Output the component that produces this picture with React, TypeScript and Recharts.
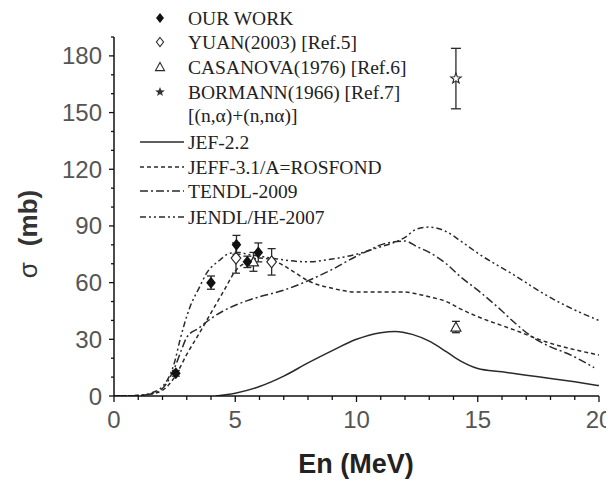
import React from "react";
import { ComposedChart, Line, Scatter, XAxis, YAxis, ErrorBar } from "recharts";

// evaluated curves (En in MeV, sigma in mb)
const jefE = [4.2, 5, 6, 7, 8, 9, 10, 11, 11.6, 12.3, 13, 13.7, 14.3, 15, 16, 17, 18, 19, 20];
const jefS = [0, 1.5, 5, 10.5, 17.5, 24, 30, 33.5, 34.2, 32.6, 29, 23.5, 18.5, 14.6, 12.8, 11, 9.3, 7.5, 5.5];

const jeffE = [0, 1, 1.5, 2, 2.5, 3, 3.6, 4, 4.5, 5.06, 5.5, 6, 6.5, 7, 7.5, 8, 9, 10, 11, 12, 12.5, 13, 13.7, 14.3, 15, 16.5, 17.8, 19, 20];
const jeffS = [0, 0.3, 1, 3, 10, 22, 35, 44, 55, 67, 71, 73, 72, 69, 65, 61, 57, 55, 55, 55, 54, 52.5, 50, 46, 42, 35, 28.7, 24.5, 21.7];

const tendlE = [0, 1, 1.5, 2, 2.5, 2.8, 3, 3.5, 4, 4.5, 5, 5.5, 6, 7, 8, 9, 10, 10.5, 11, 11.5, 12, 12.5, 13, 13.7, 14.3, 15, 16, 16.5, 17.4, 18, 18.7, 19.8];
const tendlS = [0, 0.3, 1, 4, 15, 25, 31, 36, 41, 45, 48, 50.5, 52.5, 56, 61, 67, 74, 77, 80, 81.5, 82, 79, 76, 70, 63, 56, 45, 39, 30, 26, 22.5, 15];

const jendlE = [0, 1, 1.5, 2, 2.5, 2.72, 3.13, 3.5, 3.82, 4.37, 4.78, 5.2, 5.5, 6, 6.5, 7, 8, 9, 10, 11, 11.5, 12, 12.5, 13, 13.7, 14.3, 15, 16.5, 17.8, 19, 20];
const jendlS = [0, 0.3, 1.5, 5, 18, 29.6, 47, 57, 65, 72, 75.6, 76, 75, 74, 73, 72, 71, 72.5, 75, 79, 81, 84, 88.5, 89.4, 87, 82, 75.6, 64, 53.5, 45.5, 40];

// measurements
const ourE = [2.55, 4.0, 5.05, 5.5, 5.95];
const ourS = [12, 60, 80, 71, 76];
const ourErr = [1.5, 3.5, 5, 3, 5];

const yuanE = [5.03, 6.5];
const yuanS = [73, 71];
const yuanErr = [8, 7];

const casE = [5.75, 14.1];
const casS = [71, 36.5];
const casErr = [5, 3];

const borE = [14.1];
const borS = [168];
const borErr = [16];

const legendLabels = [
  "OUR WORK",
  "YUAN(2003) [Ref.5]",
  "CASANOVA(1976) [Ref.6]",
  "BORMANN(1966) [Ref.7]",
  "[(n,α)+(n,nα)]",
  "JEF-2.2",
  "JEFF-3.1/A=ROSFOND",
  "TENDL-2009",
  "JENDL/HE-2007",
];

const xTicks = Array.from({ length: 21 }, (_, i) => i);
const yTicks = Array.from({ length: 20 }, (_, i) => i * 10);

const toRows = (e: number[], s: number[], err?: number[]) =>
  e.map((v, i) => ({ e: v, s: s[i], err: err ? err[i] : 0 }));

const W = 606;
const H = 476;
const INK = "#2a2a2a";

const dashJeff = "4 3";
const dashTendl = "8 3 2 3";
const dashJendl = "6 3 2 3 2 3";

const diamond = (cx: number, cy: number, r: number) =>
  `${cx},${cy - r} ${cx + r * 0.8},${cy} ${cx},${cy + r} ${cx - r * 0.8},${cy}`;

const triangle = (cx: number, cy: number, r: number) =>
  `${cx},${cy - r} ${cx + r},${cy + r * 0.8} ${cx - r},${cy + r * 0.8}`;

const star = (cx: number, cy: number, r: number) => {
  const pts: string[] = [];
  for (let i = 0; i < 10; i++) {
    const rr = i % 2 === 0 ? r : r * 0.42;
    const a = -Math.PI / 2 + (i * Math.PI) / 5;
    pts.push(`${cx + rr * Math.cos(a)},${cy + rr * Math.sin(a)}`);
  }
  return pts.join(" ");
};

const FilledDiamond = (p: any) => <polygon points={diamond(p.cx, p.cy, 6)} fill="#111" />;
const OpenDiamond = (p: any) => (
  <polygon points={diamond(p.cx, p.cy, 6)} fill="#fff" stroke={INK} strokeWidth={1.2} />
);
const OpenTriangle = (p: any) => (
  <polygon points={triangle(p.cx, p.cy, 5)} fill="#fff" stroke={INK} strokeWidth={1.2} />
);
const Star = (p: any) => <polygon points={star(p.cx, p.cy, 5.5)} fill="#fff" stroke={INK} strokeWidth={1.1} />;

const YTick = (props: any) => {
  const { x, y, payload } = props;
  const major = payload.value % 30 === 0;
  return (
    <g>
      <line x1={x - (major ? 5 : 3)} x2={x} y1={y} y2={y} stroke="#111" strokeWidth={1.3} />
      {major && (
        <text x={x - 12} y={y + 8.5} textAnchor="end" fontFamily="Liberation Sans" fontSize={24} fill="#555">
          {payload.value}
        </text>
      )}
    </g>
  );
};

const XTick = (props: any) => {
  const { x, y, payload } = props;
  const major = payload.value % 5 === 0;
  return (
    <g>
      <line x1={x} x2={x} y1={y} y2={y + (major ? 6 : 4)} stroke="#111" strokeWidth={1.3} />
      {major && (
        <text x={x} y={y + 32} textAnchor="middle" fontFamily="Liberation Sans" fontSize={24} fill="#555">
          {payload.value}
        </text>
      )}
    </g>
  );
};

const legendRows = [10, 34, 59, 84, 107, 134, 159, 183, 209];

const Overlay = () => {
  const mx = 152;
  const txt = { fontFamily: "Liberation Serif", fontSize: 19.5, fill: "#222" } as const;
  return (
    <svg width={W} height={H} style={{ position: "absolute", left: 0, top: 0, pointerEvents: "none" }}>
      <polygon points={diamond(mx, legendRows[0], 5)} fill="#111" />
      <polygon points={diamond(mx, legendRows[1], 4.5)} fill="#fff" stroke={INK} strokeWidth={1.1} />
      <polygon points={triangle(mx, legendRows[2], 4.5)} fill="#fff" stroke={INK} strokeWidth={1.1} />
      <polygon points={star(mx, legendRows[3], 5)} fill="#333" />
      <line x1={132} x2={176} y1={legendRows[5]} y2={legendRows[5]} stroke={INK} strokeWidth={1.4} />
      <line x1={132} x2={176} y1={legendRows[6]} y2={legendRows[6]} stroke={INK} strokeWidth={1.4} strokeDasharray={dashJeff} />
      <line x1={132} x2={176} y1={legendRows[7]} y2={legendRows[7]} stroke={INK} strokeWidth={1.4} strokeDasharray={dashTendl} />
      <line x1={132} x2={176} y1={legendRows[8]} y2={legendRows[8]} stroke={INK} strokeWidth={1.4} strokeDasharray={dashJendl} />
      {legendLabels.map((t, i) => (
        <text key={t} x={180} y={legendRows[i] + 6.5} {...txt}>
          {t}
        </text>
      ))}
      <text
        transform="translate(29,226) rotate(-90)"
        textAnchor="middle"
        fontFamily="Liberation Sans"
        fontSize={26}
        fill="#333"
      >
        <tspan>σ</tspan>
        <tspan dx={16} fontWeight="bold">(mb)</tspan>
      </text>
      <text x={348} y={465} textAnchor="middle" fontFamily="Liberation Sans" fontWeight="bold" fontSize={27} fill="#222">
        En (MeV)
      </text>
    </svg>
  );
};

export default function App() {
  return (
    <div style={{ position: "relative", width: W, height: H, background: "#fff" }}>
      <ComposedChart width={W} height={H} margin={{ top: 29, right: 15, bottom: 28, left: 0 }}>
        <XAxis
          type="number"
          dataKey="e"
          domain={[0, 20]}
          ticks={xTicks}
          interval={0}
          height={60}
          tickSize={0}
          tickMargin={0}
          tickLine={false}
          axisLine={{ stroke: "#111", strokeWidth: 1.5 }}
          tick={<XTick />}
          allowDataOverflow
        />
        <YAxis
          type="number"
          domain={[0, 190]}
          ticks={yTicks}
          interval={0}
          width={106}
          tickSize={0}
          tickMargin={0}
          tickLine={false}
          axisLine={{ stroke: "#111", strokeWidth: 1.5 }}
          tick={<YTick />}
          allowDataOverflow
        />
        <Line data={toRows(jefE, jefS)} dataKey="s" type="monotone" stroke={INK} strokeWidth={1.5} dot={false} isAnimationActive={false} />
        <Line data={toRows(jeffE, jeffS)} dataKey="s" type="monotone" stroke={INK} strokeWidth={1.5} strokeDasharray={dashJeff} dot={false} isAnimationActive={false} />
        <Line data={toRows(tendlE, tendlS)} dataKey="s" type="monotone" stroke={INK} strokeWidth={1.5} strokeDasharray={dashTendl} dot={false} isAnimationActive={false} />
        <Line data={toRows(jendlE, jendlS)} dataKey="s" type="monotone" stroke={INK} strokeWidth={1.5} strokeDasharray={dashJendl} dot={false} isAnimationActive={false} />
        <Scatter data={toRows(casE, casS, casErr)} dataKey="s" shape={OpenTriangle} isAnimationActive={false}>
          <ErrorBar dataKey="err" direction="y" width={4} stroke={INK} strokeWidth={1.3} />
        </Scatter>
        <Scatter data={toRows(yuanE, yuanS, yuanErr)} dataKey="s" shape={OpenDiamond} isAnimationActive={false}>
          <ErrorBar dataKey="err" direction="y" width={4} stroke={INK} strokeWidth={1.3} />
        </Scatter>
        <Scatter data={toRows(ourE, ourS, ourErr)} dataKey="s" shape={FilledDiamond} isAnimationActive={false}>
          <ErrorBar dataKey="err" direction="y" width={4} stroke={INK} strokeWidth={1.3} />
        </Scatter>
        <Scatter data={toRows(borE, borS, borErr)} dataKey="s" shape={Star} isAnimationActive={false}>
          <ErrorBar dataKey="err" direction="y" width={5} stroke={INK} strokeWidth={1.3} />
        </Scatter>
      </ComposedChart>
      <Overlay />
    </div>
  );
}
